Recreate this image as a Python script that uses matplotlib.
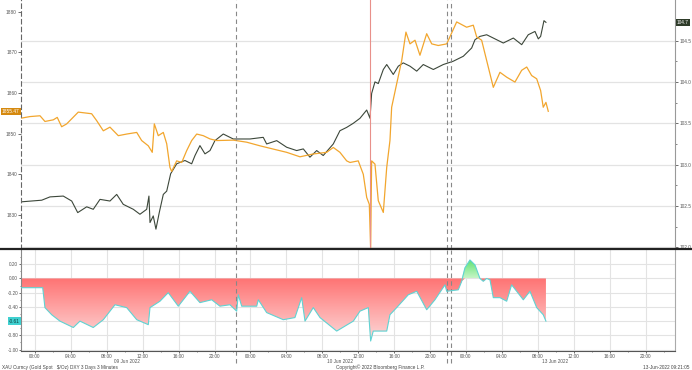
import numpy as np
import matplotlib.pyplot as plt
from matplotlib.colors import LinearSegmentedColormap
from matplotlib.lines import Line2D
from matplotlib.path import Path
import matplotlib.transforms as mtransforms

plt.rcParams['font.family'] = ['Liberation Sans', 'DejaVu Sans']

# time axis: hours since 09 Jun 2022 00:00 (trading time, weekend skipped)
gold_h = [-1.56, -0.56, 0.56, 1.11, 2.04, 2.48, 2.97, 3.53, 4.82, 6.31, 6.87, 7.61, 8.35, 9.28,
          10.21, 11.33, 11.88, 12.62, 13.06, 13.29, 13.73, 14.29, 14.67, 15.03, 15.22, 15.78,
          16.34, 16.89, 17.45, 18.01, 18.74, 19.49, 20.23, 22.08, 23.57, 25.06, 26.54, 28.03,
          29.51, 30.99, 32.48, 33.22, 33.96, 34.71, 35.08, 36.0, 36.56, 36.94, 37.23, 37.38,
          37.49, 37.86, 38.23, 38.79, 39.17, 39.53, 39.72, 40.28, 40.84, 41.31, 41.76, 42.32,
          42.87, 43.62, 44.18, 44.91, 45.85, 46.96, 48.07, 48.81, 49.19, 49.74, 50.30, 51.04,
          51.78, 52.53, 53.45, 54.20, 54.76, 55.31, 55.87, 56.31, 56.60, 56.90, 57.16]
gold = [1853.8, 1854.2, 1854.4, 1853.0, 1853.4, 1854.0, 1851.7, 1852.4, 1855.3, 1854.9, 1853.2,
        1850.7, 1851.6, 1849.5, 1849.9, 1850.3, 1848.3, 1847.0, 1845.4, 1852.4, 1849.5, 1850.3,
        1847.5, 1841.7, 1840.7, 1843.3, 1842.9, 1845.8, 1848.3, 1849.9, 1849.5, 1848.7, 1848.3,
        1848.4, 1847.9, 1847.0, 1846.2, 1845.4, 1844.3, 1845.0, 1845.4, 1846.6, 1845.4, 1843.3,
        1842.9, 1843.3, 1840.0, 1834.3, 1832.6, 1821.9, 1843.3, 1842.5, 1833.5, 1830.6, 1841.7,
        1848.3, 1856.5, 1862.3, 1868.0, 1875.0, 1872.1, 1873.0, 1869.3, 1874.6, 1872.1, 1871.7,
        1872.1, 1877.5, 1876.2, 1876.7, 1873.8, 1873.0, 1868.0, 1861.4, 1865.1, 1863.9, 1862.7,
        1865.6, 1866.4, 1864.3, 1863.5, 1860.6, 1856.5, 1857.7, 1855.5]

dxy_h = [-1.56, 0.75, 1.67, 3.15, 4.09, 4.76, 5.76, 6.49, 7.24, 8.35, 9.10, 9.83, 10.95, 11.69,
         12.44, 12.69, 12.81, 13.17, 13.47, 13.84, 14.29, 14.67, 15.11, 15.78, 16.70, 17.45,
         17.82, 18.37, 18.93, 19.49, 20.04, 20.97, 22.08, 23.94, 25.42, 25.80, 26.92, 28.03,
         29.14, 29.88, 30.62, 31.37, 32.10, 33.22, 33.96, 34.71, 35.45, 36.19, 36.94, 37.31,
         37.49, 37.86, 38.23, 38.79, 39.17, 39.90, 40.46, 41.01, 41.76, 42.51, 43.24, 44.36,
         45.47, 46.58, 47.70, 48.63, 49.00, 49.55, 50.30, 51.04, 52.15, 53.27, 54.20, 54.93,
         55.68, 56.05, 56.31, 56.68, 56.90]
dxy = [102.55, 102.57, 102.61, 102.62, 102.56, 102.42, 102.49, 102.46, 102.58, 102.56, 102.64,
       102.52, 102.46, 102.40, 102.46, 102.62, 102.30, 102.38, 102.22, 102.42, 102.64, 102.68,
       102.89, 103.01, 103.05, 103.01, 103.11, 103.23, 103.13, 103.17, 103.29, 103.37, 103.31,
       103.31, 103.33, 103.25, 103.29, 103.21, 103.17, 103.19, 103.09, 103.17, 103.11, 103.25,
       103.41, 103.45, 103.50, 103.56, 103.66, 103.56, 103.86, 104.00, 103.98, 104.15, 104.21,
       104.09, 104.19, 104.23, 104.19, 104.13, 104.21, 104.15, 104.21, 104.25, 104.31, 104.41,
       104.51, 104.55, 104.57, 104.53, 104.47, 104.53, 104.45, 104.57, 104.61, 104.52, 104.55,
       104.74, 104.72]

corr_h = [-1.56, 0.86, 1.11, 1.86, 2.78, 4.27, 5.01, 6.49, 7.61, 8.91, 10.21, 11.33, 12.62,
          12.81, 13.92, 14.84, 15.96, 17.26, 18.37, 19.68, 20.60, 21.71, 22.46, 22.64, 23.02,
          24.69, 24.87, 25.80, 27.65, 28.95, 29.70, 30.07, 30.99, 31.74, 33.60, 35.45, 36.19,
          37.12, 37.38, 37.67, 39.17, 39.53, 40.28, 41.57, 42.51, 43.62, 44.54, 45.66, 45.85,
          47.14, 47.52, 47.88, 48.44, 49.00, 49.55, 49.92, 50.30, 50.67, 51.04, 51.78, 52.53,
          53.08, 53.64, 54.38, 55.12, 55.87, 56.60, 56.90]
corr = [-0.13, -0.13, -0.41, -0.51, -0.60, -0.69, -0.60, -0.69, -0.58, -0.37, -0.41, -0.58,
        -0.65, -0.41, -0.32, -0.20, -0.39, -0.18, -0.34, -0.30, -0.39, -0.37, -0.46, -0.23,
        -0.39, -0.39, -0.30, -0.48, -0.58, -0.55, -0.27, -0.60, -0.41, -0.55, -0.74, -0.60,
        -0.46, -0.41, -0.88, -0.74, -0.74, -0.51, -0.41, -0.23, -0.18, -0.44, -0.30, -0.09,
        -0.18, -0.16, -0.04, 0.15, 0.26, 0.19, 0.00, -0.04, 0.00, -0.02, -0.27, -0.27, -0.32,
        -0.09, -0.18, -0.30, -0.18, -0.41, -0.51, -0.60]

hour_ticks = list(range(0, 72, 4))
hour_labels = [f"{h % 24:02d}:00" for h in hour_ticks]
day_labels = ['09 Jun 2022', '10 Jun 2022', '13 Jun 2022']
day_label_h = [10.2, 34.0, 57.9]
session_lines = [22.4, 45.9, 46.3]
event_line = 37.3

x0, x1 = -1.56, 71.27
gold_col = '#f2a62e'
dxy_col = '#3c473a'
tick_col = '#555555'
fs = 3.4

fig = plt.figure(figsize=(6.92, 3.70), dpi=100)
ax_r = fig.add_axes([0.0303, 0.327, 0.9451, 0.673])
ax = ax_r.twinx()
ax2 = fig.add_axes([0.0303, 0.0514, 0.9451, 0.2729])

# --- top panel: gold (left) vs DXY (right)
ax_r.plot(dxy_h, dxy, color=dxy_col, lw=0.8)
ax.plot(gold_h, gold, color=gold_col, lw=0.9)
ax.set_xlim(x0, x1)
ax.set_ylim(1821.6, 1882.9)
ax_r.set_ylim(101.98, 104.99)

# swap sides: gold scale on the left, DXY on the right
ax.yaxis.tick_left()
ax_r.yaxis.tick_right()
ax.set_yticks(range(1830, 1881, 10))
r_major = np.arange(102.0, 104.6, 0.5)
ax_r.set_yticks(r_major)
ax_r.set_yticks(np.arange(102.0, 104.9, 0.25), minor=True)
ax_r.set_yticklabels([f"{v:.1f}" for v in r_major])
ax_r.grid(axis='y', color='#e3e3e3', lw=0.9)
for a in (ax, ax_r):
    a.tick_params(axis='y', labelsize=fs, colors=tick_col, length=2, width=0.6, pad=1)
    a.tick_params(axis='y', which='minor', length=1.5, width=0.5, colors=tick_col)
    a.set_xticks([])
    for s in a.spines.values():
        s.set_visible(False)
ax.spines['left'].set_visible(True)
ax.spines['left'].set_linestyle((0, (4, 3)))
ax.spines['left'].set_color('#666666')
ax.spines['left'].set_linewidth(0.8)
ax_r.spines['right'].set_visible(True)
ax_r.spines['right'].set_color('#999999')
ax_r.spines['right'].set_linewidth(0.8)

for v in session_lines:
    ax.axvline(v, color='#888888', lw=0.8, ls=(0, (4, 3)))
ax.axvline(event_line, color='#e8908a', lw=0.8)

ytr = mtransforms.blended_transform_factory(ax.transAxes, ax.transData)
ax.text(-0.002, gold[-1], f"{gold[-1] - 0.03:.2f}", transform=ytr, ha='right', va='center',
        fontsize=fs, color='white', bbox=dict(boxstyle='square,pad=0.25', fc='#d5890f', ec='none'))
ytr_r = mtransforms.blended_transform_factory(ax_r.transAxes, ax_r.transData)
ax_r.text(1.003, dxy[-1], f"{dxy[-1]:.1f}", transform=ytr_r, ha='left', va='center',
          fontsize=fs, color='white', bbox=dict(boxstyle='square,pad=0.25', fc='#2e3b29', ec='none'))

# --- bottom panel: correlation
corr_a = np.array(corr)
ch = np.array(corr_h)


def gradient_fill(a, y, lo, hi, colors):
    coll = a.fill_between(ch, y, 0, color='none', lw=0)
    path = Path.make_compound_path(*coll.get_paths())
    cmap = LinearSegmentedColormap.from_list('g', colors)
    grad = np.linspace(0, 1, 256).reshape(-1, 1)
    im = a.imshow(grad, cmap=cmap, extent=[x0, x1, lo, hi], origin='lower',
                  aspect='auto', zorder=1.5)
    im.set_clip_path(path, transform=a.transData)


gradient_fill(ax2, np.minimum(corr_a, 0), -0.95, 0.0, ['#fde2e2', '#ff7373'])
gradient_fill(ax2, np.maximum(corr_a, 0), 0.0, 0.28, ['#c6f5c6', '#55e06a'])
ax2.plot(ch, corr_a, color='#5fd3d3', lw=0.8, zorder=3)

ax2.set_xlim(x0, x1)
ax2.set_ylim(-1.02, 0.40)
c_major = np.round(np.arange(-1.0, 0.21, 0.2), 2)
ax2.set_yticks(c_major)
# the -0.60 label sits under the last-value tag
ax2.set_yticklabels(['' if abs(v + 0.6) < 1e-9 else f"{v + 0.0:.2f}" for v in c_major])
ax2.set_yticks(np.arange(-1.0, 0.31, 0.1), minor=True)
ax2.set_xticks(hour_ticks)
ax2.set_xticklabels(hour_labels)
ax2.set_xticks(np.arange(0, 72, 2), minor=True)
ax2.tick_params(labelsize=fs, colors=tick_col, length=1.5, width=0.6, pad=0.6)
ax2.tick_params(which='minor', length=1.0, width=0.5, colors=tick_col)
ax2.grid(True, color='#e3e3e3', lw=0.8, zorder=0)
ax2.set_axisbelow(True)
ax2.spines['top'].set_visible(False)
ax2.spines['right'].set_color('#aaaaaa')
ax2.spines['left'].set_color('#888888')
ax2.spines['bottom'].set_color('#555555')
for s in ax2.spines.values():
    s.set_linewidth(0.8)

for v in session_lines:
    ax2.axvline(v, ymin=-0.12, ymax=1, color='#888888', lw=0.8, ls=(0, (4, 3)), clip_on=False)

xtr = mtransforms.blended_transform_factory(ax2.transData, ax2.transAxes)
for h, lab in zip(day_label_h, day_labels):
    ax2.text(h, -0.075, lab, transform=xtr, ha='center', va='top', fontsize=fs, color=tick_col)

ytr2 = mtransforms.blended_transform_factory(ax2.transAxes, ax2.transData)
ax2.text(-0.002, corr[-1], f"{corr[-1] - 0.01:.2f}", transform=ytr2, ha='right', va='center',
         fontsize=fs, color='#0d3d3d', zorder=5,
         bbox=dict(boxstyle='square,pad=0.25', fc='#3fd0d0', ec='none'))

# panel separator and footer
fig.add_artist(Line2D([0, 1], [0.3265, 0.3265], color='#222222', lw=1.6))
fig.text(0.003, 0.003, 'XAU Curncy (Gold Spot   $/Oz) DXY 3 Days 3 Minutes', fontsize=fs, color='#444444')
fig.text(0.549, 0.003, 'Copyright\u00a9 2022 Bloomberg Finance L.P.', fontsize=fs, color='#444444', ha='center')
fig.text(0.997, 0.003, '13-Jun-2022 09:21:05', fontsize=fs, color='#444444', ha='right')

fig.savefig('out.png', dpi=100)
